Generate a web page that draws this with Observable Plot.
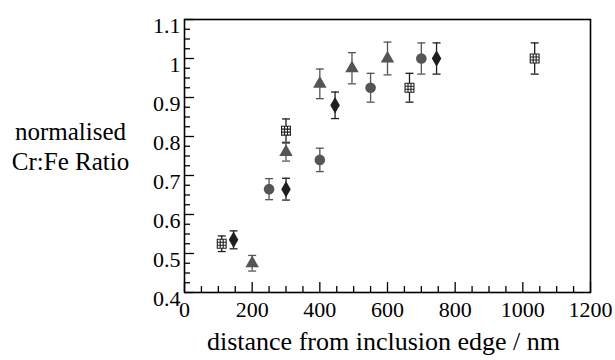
<!DOCTYPE html>
<html>
<head>
<meta charset="utf-8">
<script src="https://cdn.jsdelivr.net/npm/d3@7"></script>
<script src="https://cdn.jsdelivr.net/npm/@observablehq/plot@0.6"></script>
<style>
  html, body { margin: 0; padding: 0; background: #fff; }
  svg { display: block; }
  #chart svg, #chart svg text, #chart svg tspan {
    font-family: "Liberation Serif", "Times New Roman", serif !important;
  }
</style>
</head>
<body>
<div id="chart"></div>
<script>
// ---- data ----
const gridSquareX = [110, 300, 665, 1035];
const gridSquareY = [0.525, 0.815, 0.925, 1.0];
const gridSquareErr = [0.02, 0.03, 0.037, 0.04];

const triangleX = [200, 300, 400, 495, 600];
const triangleY = [0.475, 0.76, 0.935, 0.975, 1.0];
const triangleErr = [0.02, 0.023, 0.038, 0.04, 0.042];

const circleX = [250, 400, 550, 700];
const circleY = [0.665, 0.74, 0.925, 1.0];
const circleErr = [0.027, 0.03, 0.037, 0.04];

const diamondX = [145, 300, 445, 745];
const diamondY = [0.535, 0.665, 0.88, 1.0];
const diamondErr = [0.023, 0.028, 0.034, 0.04];

const xTicks = [0, 200, 400, 600, 800, 1000, 1200];
const xTickLabels = ["0", "200", "400", "600", "800", "1000", "1200"];
const yTicks = [0.4, 0.5, 0.6, 0.7, 0.8, 0.9, 1.0, 1.1];
const yTickLabels = ["0.4", "0.5", "0.6", "0.7", "0.8", "0.9", "1", "1.1"];
const xLabel = "distance from inclusion edge / nm";
const yLabel = "normalised\nCr:Fe Ratio";

// ---- build tables ----
function series(xs, ys, es, name) {
  return xs.map((x, i) => ({x, y: ys[i], e: es[i], name}));
}
const squares = series(gridSquareX, gridSquareY, gridSquareErr, "square");
const triangles = series(triangleX, triangleY, triangleErr, "triangle");
const circles = series(circleX, circleY, circleErr, "circle");
const diamonds = series(diamondX, diamondY, diamondErr, "diamond");

const xMinor = d3.range(0, 1201, 50).filter(v => v % 200 !== 0);
const yMinor = d3.range(0, 29).map(i => 0.4 + i * 0.025).filter(v => Math.abs(v * 10 - Math.round(v * 10)) > 1e-6);

// custom symbols
const capSymbol = {
  draw(ctx, size) {
    const r = Math.sqrt(size) / 2;
    ctx.moveTo(-r, 0); ctx.lineTo(r, 0);
  }
};
const gridSquareSymbol = {
  draw(ctx, size) {
    const s = Math.sqrt(size) / 2;
    ctx.moveTo(-s, -s); ctx.lineTo(s, -s); ctx.lineTo(s, s); ctx.lineTo(-s, s); ctx.closePath();
    const t = s / 3;
    ctx.moveTo(-t, -s); ctx.lineTo(-t, s);
    ctx.moveTo(t, -s); ctx.lineTo(t, s);
    ctx.moveTo(-s, -t); ctx.lineTo(s, -t);
    ctx.moveTo(-s, t); ctx.lineTo(s, t);
  }
};

const gray = "#555555";
const dark = "#1e1e1e";
const serif = "'Liberation Serif', 'Times New Roman', serif";

function errorMarks(data, color) {
  return [
    Plot.ruleX(data, {x: "x", y1: d => d.y - d.e, y2: d => d.y + d.e, stroke: color, strokeWidth: 1.3}),
    Plot.dot(data, {x: "x", y: d => d.y + d.e, symbol: capSymbol, r: 4.5, stroke: color, strokeWidth: 1.3}),
    Plot.dot(data, {x: "x", y: d => d.y - d.e, symbol: capSymbol, r: 4.5, stroke: color, strokeWidth: 1.3})
  ];
}

const frameW = 615 - 184 - 25;
const frameH = 360 - 19 - 68;

const chart = Plot.plot({
  width: 615,
  height: 360,
  marginLeft: 184,
  marginRight: 25,
  marginTop: 19,
  marginBottom: 68,
  style: {background: "#fff", color: "#000"},
  x: {domain: [0, 1200]},
  y: {domain: [0.4, 1.1]},
  marks: [
    // inward ticks
    Plot.tickX(xTicks, {x: d => d, insetTop: frameH - 10, stroke: "#000", strokeWidth: 1.3}),
    Plot.tickX(xMinor, {x: d => d, insetTop: frameH - 6, stroke: "#000", strokeWidth: 1.3}),
    Plot.tickY(yTicks, {y: d => d, insetRight: frameW - 10, stroke: "#000", strokeWidth: 1.3}),
    Plot.tickY(yMinor, {y: d => d, insetRight: frameW - 6, stroke: "#000", strokeWidth: 1.3}),
    Plot.frame({stroke: "#000", strokeWidth: 1.6}),
    Plot.axisX({ticks: xTicks, tickSize: 0, tickPadding: 9, label: null, fontSize: 22,
      tickFormat: d => xTickLabels[xTicks.indexOf(d)]}),
    Plot.axisY({ticks: yTicks, tickSize: 0, tickPadding: 4, dy: 6, label: null, fontSize: 22,
      tickFormat: d => yTickLabels[yTicks.findIndex(t => Math.abs(t - d) < 1e-9)]}),
    // error bars
    ...errorMarks(squares, dark),
    ...errorMarks(triangles, gray),
    ...errorMarks(circles, gray),
    ...errorMarks(diamonds, dark),
    // markers
    Plot.dot(squares, {x: "x", y: "y", symbol: gridSquareSymbol, r: 5, stroke: dark, fill: "#fff", strokeWidth: 1.1}),
    Plot.dot(triangles, {x: "x", y: "y", symbol: "triangle", r: 5, fill: gray, stroke: "none"}),
    Plot.dot(circles, {x: "x", y: "y", r: 5.3, fill: gray, stroke: "none"}),
    Plot.dot(diamonds, {x: "x", y: "y", symbol: "diamond", r: 5, fill: dark, stroke: "none"}),
    // axis titles
    Plot.text([xLabel], {text: d => d, frameAnchor: "bottom", dx: -4, dy: 57, fontSize: 26, fill: "#000"}),
    Plot.text([yLabel], {text: d => d, frameAnchor: "left", dx: -114, dy: -11, fontSize: 25, lineHeight: 1.2, textAnchor: "middle", fill: "#000"})
  ]
});
document.getElementById("chart").appendChild(chart);

// enforce the serif family on every text element
d3.select(chart).selectAll("text").style("font-family", serif);
</script>
</body>
</html>
